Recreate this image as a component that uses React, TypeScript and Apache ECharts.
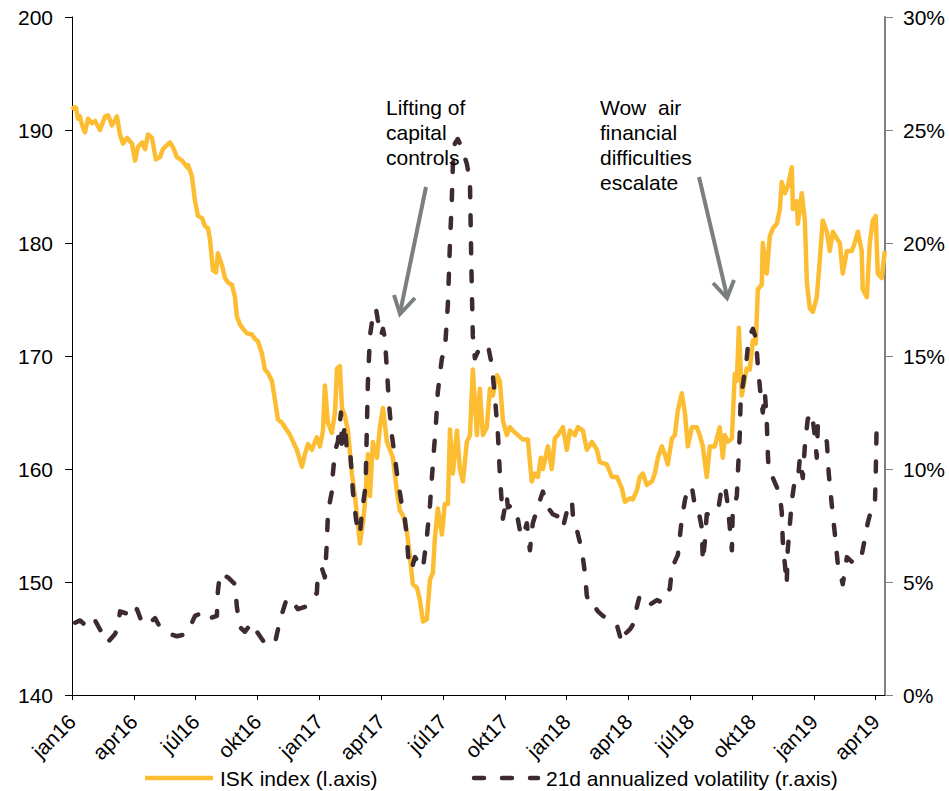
import React, { useEffect, useRef } from "react";
import * as echarts from "echarts";

// x values: months since January 2016 (0 = start of jan16)
const ISK_T = [0, 0.1, 0.19, 0.29, 0.39, 0.49, 0.63, 0.78, 0.97, 1.12, 1.36, 1.6, 1.75, 1.94, 2.18, 2.33, 2.47, 2.67, 2.91, 3.06, 3.2, 3.4, 3.54, 3.69, 3.88, 4.07, 4.27, 4.41, 4.75, 4.9, 5.09, 5.34, 5.58, 5.63, 5.82, 5.97, 6.11, 6.31, 6.45, 6.6, 6.69, 6.84, 6.99, 7.08, 7.28, 7.42, 7.57, 7.76, 7.91, 8.0, 8.15, 8.3, 8.49, 8.73, 8.88, 9.02, 9.22, 9.36, 9.51, 9.7, 9.85, 9.99, 10.19, 10.33, 10.58, 10.91, 11.16, 11.3, 11.45, 11.64, 11.88, 12.03, 12.18, 12.27, 12.42, 12.61, 12.76, 12.86, 13.0, 13.1, 13.24, 13.39, 13.58, 13.73, 13.87, 13.97, 14.12, 14.21, 14.36, 14.46, 14.6, 14.8, 14.94, 15.09, 15.28, 15.43, 15.57, 15.77, 15.91, 16.06, 16.25, 16.4, 16.54, 16.74, 16.88, 17.03, 17.22, 17.37, 17.51, 17.61, 17.75, 17.95, 18.09, 18.24, 18.34, 18.48, 18.68, 18.82, 18.97, 19.16, 19.31, 19.45, 19.65, 19.79, 19.94, 20.13, 20.28, 20.42, 20.62, 20.76, 20.91, 21.1, 21.25, 21.39, 21.64, 21.88, 22.12, 22.31, 22.46, 22.61, 22.75, 22.85, 23.09, 23.28, 23.43, 23.58, 23.82, 24.01, 24.16, 24.4, 24.55, 24.79, 24.98, 25.23, 25.47, 25.61, 25.95, 26.2, 26.44, 26.68, 26.83, 27.07, 27.21, 27.41, 27.55, 27.7, 27.89, 28.14, 28.28, 28.43, 28.62, 28.77, 28.91, 29.11, 29.25, 29.4, 29.59, 29.74, 29.88, 30.08, 30.32, 30.46, 30.61, 30.8, 30.95, 31.19, 31.43, 31.58, 31.68, 31.82, 32.02, 32.16, 32.26, 32.36, 32.5, 32.74, 32.89, 33.04, 33.18, 33.28, 33.47, 33.52, 33.71, 33.86, 34.01, 34.2, 34.35, 34.44, 34.59, 34.73, 34.93, 34.98, 35.17, 35.22, 35.41, 35.56, 35.66, 35.8, 35.95, 36.14, 36.29, 36.43, 36.63, 36.77, 36.92, 37.11, 37.26, 37.4, 37.6, 37.84, 37.98, 38.13, 38.32, 38.37, 38.57, 38.71, 38.86, 39.0, 39.1, 39.29, 39.44];
const ISK_V = [191.8, 192.0, 192.0, 191.0, 191.2, 190.4, 189.8, 191.0, 190.6, 190.8, 190.0, 191.2, 191.3, 190.4, 191.2, 189.6, 188.8, 189.3, 188.8, 187.3, 188.5, 188.9, 188.3, 189.6, 189.3, 187.4, 187.6, 188.3, 188.9, 188.5, 187.6, 187.3, 186.7, 186.9, 185.9, 183.7, 182.4, 182.2, 181.5, 181.3, 180.4, 177.6, 177.4, 179.1, 178.0, 176.9, 176.5, 176.3, 175.2, 173.5, 172.8, 172.4, 172.0, 171.9, 171.5, 171.3, 170.2, 168.8, 168.5, 167.8, 166.1, 164.4, 164.1, 163.7, 163.0, 161.7, 160.2, 161.3, 162.2, 161.7, 162.8, 162.0, 163.4, 167.4, 164.1, 163.2, 165.0, 168.9, 169.1, 165.4, 164.7, 163.4, 159.6, 157.6, 155.2, 153.4, 155.2, 156.9, 161.3, 157.6, 162.4, 161.0, 163.7, 165.4, 162.4, 161.7, 161.0, 158.0, 156.3, 155.9, 154.5, 152.2, 149.8, 149.5, 148.4, 146.5, 146.7, 150.2, 150.8, 153.9, 156.5, 154.2, 156.9, 156.9, 163.5, 159.6, 163.4, 160.0, 158.9, 162.4, 163.0, 168.8, 163.0, 167.1, 163.0, 163.7, 167.1, 166.5, 168.3, 167.8, 164.3, 163.0, 163.7, 163.4, 163.0, 162.6, 162.6, 158.9, 159.6, 159.3, 161.0, 160.0, 162.0, 160.0, 162.7, 163.0, 163.7, 161.7, 163.4, 163.0, 163.7, 163.4, 161.7, 162.4, 161.7, 160.6, 160.4, 159.3, 159.3, 158.3, 157.1, 157.4, 157.3, 158.1, 159.3, 159.6, 158.6, 158.9, 159.6, 161.0, 162.0, 161.3, 160.4, 162.7, 163.0, 165.2, 166.7, 165.0, 162.0, 163.7, 163.7, 163.0, 162.0, 159.3, 162.0, 162.0, 163.7, 161.0, 163.0, 162.4, 162.7, 168.4, 167.8, 172.5, 166.5, 168.9, 168.8, 171.4, 171.1, 175.9, 176.3, 180.0, 177.3, 180.6, 181.3, 181.7, 183.0, 185.4, 184.4, 185.0, 186.7, 183.0, 183.7, 181.7, 184.4, 182.0, 176.5, 174.2, 173.9, 175.2, 178.6, 182.0, 181.0, 179.3, 181.0, 180.4, 180.0, 177.3, 179.3, 179.3, 180.0, 181.0, 179.3, 175.9, 175.2, 180.0, 182.0, 182.4, 177.3, 176.9, 179.3];

const VOL_T = [0.15, 0.39, 0.63, 0.78, 1.12, 1.36, 1.7, 2.09, 2.23, 2.33, 2.67, 2.91, 3.15, 3.4, 3.64, 4.03, 4.27, 4.75, 5.09, 5.58, 5.72, 5.97, 6.21, 6.45, 6.69, 7.03, 7.08, 7.18, 7.57, 7.91, 8.0, 8.15, 8.39, 8.73, 8.97, 9.27, 9.61, 9.85, 10.09, 10.43, 10.72, 10.96, 11.3, 11.55, 11.88, 11.93, 12.13, 12.27, 12.37, 12.42, 12.61, 12.66, 12.76, 12.9, 13.05, 13.1, 13.24, 13.34, 13.49, 13.63, 13.78, 13.87, 13.97, 14.07, 14.21, 14.26, 14.31, 14.36, 14.46, 14.6, 14.75, 14.84, 14.99, 15.09, 15.18, 15.28, 15.38, 15.52, 15.67, 15.81, 16.01, 16.15, 16.25, 16.35, 16.49, 16.64, 16.79, 17.03, 17.22, 17.37, 17.51, 17.66, 17.75, 17.95, 18.09, 18.24, 18.34, 18.43, 18.48, 18.58, 18.72, 18.92, 19.16, 19.31, 19.36, 19.4, 19.45, 19.55, 19.7, 19.79, 20.03, 20.18, 20.37, 20.52, 20.67, 20.76, 20.86, 20.91, 21.1, 21.15, 21.34, 21.59, 21.73, 21.88, 22.07, 22.22, 22.36, 22.7, 22.85, 23.09, 23.33, 23.58, 23.82, 24.06, 24.26, 24.3, 24.5, 24.74, 24.89, 24.98, 25.13, 25.37, 25.52, 25.76, 25.95, 26.2, 26.44, 26.68, 26.83, 27.07, 27.21, 27.41, 27.55, 27.8, 28.04, 28.38, 28.62, 28.77, 28.91, 29.01, 29.11, 29.25, 29.4, 29.59, 29.74, 29.88, 30.08, 30.22, 30.37, 30.56, 30.61, 30.71, 30.8, 30.95, 31.19, 31.34, 31.53, 31.68, 31.82, 32.02, 32.06, 32.26, 32.31, 32.4, 32.45, 32.55, 32.74, 32.84, 33.04, 33.18, 33.28, 33.42, 33.52, 33.62, 33.71, 33.76, 33.81, 34.01, 34.2, 34.35, 34.44, 34.49, 34.59, 34.68, 34.73, 34.93, 35.07, 35.22, 35.32, 35.46, 35.56, 35.7, 35.9, 36.04, 36.14, 36.19, 36.38, 36.63, 36.72, 36.87, 37.02, 37.16, 37.35, 37.4, 37.6, 37.84, 38.08, 38.32, 38.47, 38.61, 38.81, 38.96, 39.0, 39.05, 39.2];
const VOL_V = [3.2, 3.3, 3.1, 3.4, 3.3, 2.9, 2.3, 2.7, 3.0, 3.7, 3.6, 3.4, 3.8, 3.2, 3.1, 3.4, 3.0, 2.7, 2.6, 2.7, 3.0, 3.5, 3.6, 3.7, 3.4, 3.5, 4.6, 5.4, 5.2, 4.9, 3.9, 3.0, 2.8, 3.2, 2.8, 2.4, 2.5, 2.3, 3.3, 4.3, 4.1, 3.8, 3.9, 4.3, 4.5, 5.4, 5.6, 5.2, 6.8, 8.1, 9.0, 9.8, 10.8, 11.2, 12.5, 10.8, 12.0, 10.8, 10.9, 9.0, 7.8, 7.3, 7.1, 8.1, 9.0, 9.8, 11.9, 13.9, 15.9, 16.8, 17.1, 16.6, 15.9, 16.2, 15.8, 14.4, 12.9, 11.5, 10.5, 9.5, 8.4, 7.8, 7.0, 5.6, 5.6, 6.1, 5.9, 5.6, 7.0, 8.4, 10.2, 12.0, 13.4, 14.9, 15.2, 17.3, 20.0, 21.9, 23.4, 24.4, 24.6, 24.2, 23.5, 22.7, 20.0, 18.0, 15.9, 14.9, 15.2, 15.3, 15.4, 15.5, 14.6, 13.2, 11.5, 9.8, 8.4, 7.8, 8.8, 8.3, 8.4, 8.0, 7.3, 7.0, 7.6, 6.4, 7.6, 8.6, 9.0, 8.3, 8.0, 7.9, 7.4, 8.3, 8.6, 8.0, 7.3, 6.4, 5.4, 4.4, 3.9, 3.9, 3.7, 3.5, 3.4, 3.2, 3.1, 2.3, 2.7, 2.9, 3.1, 3.9, 4.4, 4.1, 4.0, 4.2, 4.1, 4.2, 4.6, 4.7, 5.6, 5.9, 6.2, 7.8, 8.6, 9.2, 9.2, 8.4, 8.3, 7.4, 5.9, 6.8, 8.0, 8.0, 8.1, 8.1, 9.2, 9.3, 8.4, 6.4, 8.1, 8.8, 9.8, 11.5, 13.2, 13.7, 14.9, 15.8, 16.2, 15.8, 14.6, 13.2, 12.5, 13.4, 12.2, 10.8, 9.8, 9.6, 9.2, 8.8, 8.1, 6.8, 5.8, 4.9, 6.4, 8.6, 9.5, 9.5, 10.5, 9.6, 11.0, 12.2, 12.5, 11.5, 10.5, 11.9, 11.7, 11.2, 9.8, 8.4, 7.1, 5.8, 5.1, 4.9, 6.1, 5.9, 5.8, 6.2, 6.9, 7.6, 8.3, 8.4, 9.8, 12.2, 12.2];

const MONTH_NAMES = ["jan", "apr", "júl", "okt"];
const X_MAX = 39.45;
const LEFT_MIN = 140;
const LEFT_MAX = 200;
const LEFT_STEP = 10;
const RIGHT_MIN = 0;
const RIGHT_MAX = 30;
const RIGHT_STEP = 5;

const SERIES_ISK = "ISK index (l.axis)";
const SERIES_VOL = "21d annualized volatility (r.axis)";
const NOTE_1 = "Lifting of\ncapital\ncontrols";
const NOTE_2 = "Wow  air\nfinancial\ndifficulties\nescalate";

const FONT = "'Liberation Sans', Arial, sans-serif";
const ORANGE = "#FDBD33";
const DARK = "#3E2B30";
const ARROW = "#7B7F80";
const DASH = [10, 18];

export default function App() {
  const ref = useRef<HTMLDivElement>(null);
  useEffect(() => {
    if (!ref.current) return;
    const chart = echarts.init(ref.current, undefined, { renderer: "svg" });
    const isk = ISK_T.map((t, i) => [t, ISK_V[i]]);
    const vol = VOL_T.map((t, i) => [t, VOL_V[i]]);
    const arrowStyle = { stroke: ARROW, lineWidth: 4, lineCap: "butt" as const };
    const legendY = 778;
    chart.setOption({
      animation: false,
      textStyle: { fontFamily: FONT },
      grid: { left: 72, right: 64, top: 17, bottom: 96, containLabel: false },
      legend: { show: false },
      xAxis: {
        type: "value",
        min: 0,
        max: X_MAX,
        interval: 3,
        axisLine: { show: true, lineStyle: { color: "#000", width: 1 } },
        axisTick: { show: true, length: 5, lineStyle: { color: "#000" } },
        splitLine: { show: false },
        axisLabel: {
          rotate: 45,
          margin: 23,
          color: "#000",
          fontSize: 21,
          fontFamily: FONT,
          showMaxLabel: false,
          formatter: (v: number) => {
            const r = Math.round(v);
            if (Math.abs(v - r) > 1e-6 || r % 3 !== 0) return "";
            const year = 16 + Math.floor(r / 12);
            return MONTH_NAMES[(r % 12) / 3] + year;
          },
        },
      },
      yAxis: [
        {
          type: "value",
          position: "left",
          min: LEFT_MIN,
          max: LEFT_MAX,
          interval: LEFT_STEP,
          axisLine: { show: true, lineStyle: { color: "#000", width: 1 } },
          axisTick: { show: true, length: 7, lineStyle: { color: "#000" } },
          splitLine: { show: false },
          axisLabel: { margin: 19, color: "#000", fontSize: 21, fontFamily: FONT },
        },
        {
          type: "value",
          position: "right",
          min: RIGHT_MIN,
          max: RIGHT_MAX,
          interval: RIGHT_STEP,
          axisLine: { show: true, lineStyle: { color: "#808080", width: 2 } },
          axisTick: { show: true, length: 8, lineStyle: { color: "#808080" } },
          splitLine: { show: false },
          axisLabel: { margin: 18, color: "#000", fontSize: 21, fontFamily: FONT, formatter: "{value}%" },
        },
      ],
      series: [
        {
          name: SERIES_ISK,
          type: "line",
          yAxisIndex: 0,
          data: isk,
          showSymbol: false,
          symbol: "none",
          lineStyle: { color: ORANGE, width: 4.5, join: "round" },
          itemStyle: { color: ORANGE },
          z: 2,
        },
        {
          name: SERIES_VOL,
          type: "line",
          yAxisIndex: 1,
          data: vol,
          showSymbol: false,
          symbol: "none",
          lineStyle: { color: DARK, width: 4.5, type: DASH, cap: "round", join: "round" },
          itemStyle: { color: DARK },
          z: 3,
        },
      ],
      graphic: [
        {
          type: "text",
          x: 386,
          y: 95,
          style: { text: NOTE_1, font: `21px ${FONT}`, fill: "#000", lineHeight: 25, verticalAlign: "top" },
          z: 10,
        },
        {
          type: "text",
          x: 600,
          y: 95,
          style: { text: NOTE_2, font: `21px ${FONT}`, fill: "#000", lineHeight: 25, verticalAlign: "top" },
          z: 10,
        },
        { type: "line", shape: { x1: 426, y1: 187, x2: 400, y2: 313 }, style: arrowStyle, z: 10 },
        { type: "polyline", shape: { points: [[394, 295], [400, 314], [415, 298]] }, style: { ...arrowStyle, fill: "none" }, z: 10 },
        { type: "line", shape: { x1: 699, y1: 177, x2: 727, y2: 296 }, style: arrowStyle, z: 10 },
        { type: "polyline", shape: { points: [[713, 283], [727, 298], [734, 280]] }, style: { ...arrowStyle, fill: "none" }, z: 10 },
        // legend
        { type: "line", shape: { x1: 145, y1: legendY, x2: 213, y2: legendY }, style: { stroke: ORANGE, lineWidth: 4.5 }, z: 10 },
        {
          type: "text",
          x: 220,
          y: legendY,
          style: { text: SERIES_ISK, font: `21px ${FONT}`, fill: "#000", verticalAlign: "middle" },
          z: 10,
        },
        {
          type: "line",
          shape: { x1: 474, y1: legendY, x2: 538, y2: legendY },
          style: { stroke: DARK, lineWidth: 4.5, lineDash: DASH, lineCap: "round" },
          z: 10,
        },
        {
          type: "text",
          x: 546,
          y: legendY,
          style: { text: SERIES_VOL, font: `21px ${FONT}`, fill: "#000", verticalAlign: "middle" },
          z: 10,
        },
      ],
    });
    return () => chart.dispose();
  }, []);
  return <div ref={ref} style={{ position: "absolute", left: 0, top: 0, width: 949, height: 791 }} />;
}
